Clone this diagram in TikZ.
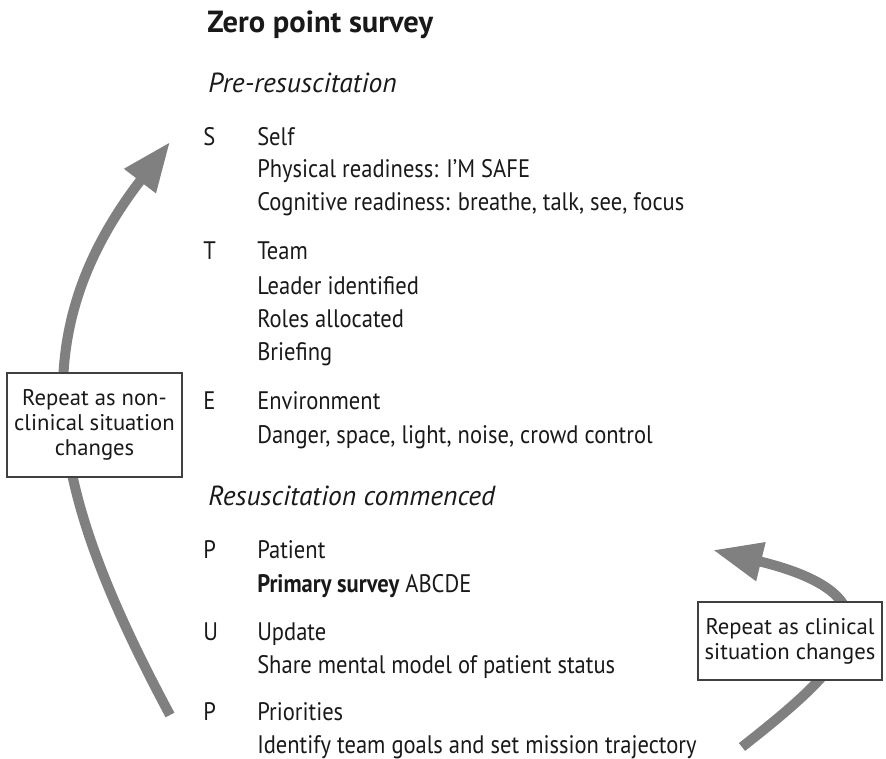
\documentclass[tikz,border=0pt]{standalone}
\usepackage{fontspec}
\setmainfont{PT Sans}
\newfontfamily\bodyfont[FakeStretch=0.89]{PT Sans}
\usetikzlibrary{arrows.meta}
\begin{document}
\begin{tikzpicture}[x=0.75pt,y=-0.75pt,
  body/.style={anchor=base west, inner sep=0pt, font=\bodyfont\fontsize{19}{22}\selectfont, text=black!90},
  titletext/.style={anchor=base west, inner sep=0pt, font=\fontsize{22.9}{26}\selectfont\bfseries, text=black!90},
  subhead/.style={anchor=base west, inner sep=0pt, font=\fontsize{20.7}{24}\selectfont\itshape, text=black!90},
  notebox/.style={draw=black!75, line width=1pt, fill=white, align=center, inner sep=0pt, text=black!90,
    font=\fontsize{17}{18.75}\selectfont},
  bigarrow/.style={draw=black!50, line width=7.5pt, -{Triangle[length=37pt,width=28pt]}}
]
\useasboundingbox (0,0) rectangle (886,759);

% arrows (drawn first, boxes cover them)
\coordinate (la0) at (170,715);
\coordinate (la1) at (170,142);
\draw[bigarrow] (la0) .. controls (51,493) and (17,341) .. (la1);
\coordinate (ra0) at (742,747);
\coordinate (ra1) at (713,550);
\draw[bigarrow] (ra0) .. controls (832,676) and (922,601) .. (ra1);

% boxes
\node[notebox, minimum width=175*0.75pt, minimum height=104*0.75pt] (boxl) at (94.5,425)
  {Repeat as non-\\clinical situation\\changes};
\node[notebox, minimum width=184*0.75pt, minimum height=78*0.75pt] (boxr) at (790,641)
  {Repeat as clinical\\situation changes};

% text
\node[titletext] (title) at (207,33) {Zero point survey};
\node[subhead] (pre) at (208,93) {Pre-resuscitation};

\node[body] (S) at (203,146) {S};
\node[body] (self) at (257,146) {Self};
\node[body] (phys) at (257,178) {Physical readiness: I’M SAFE};
\node[body] (cog) at (257,211) {Cognitive readiness: breathe, talk, see, focus};

\node[body] (T) at (203,260) {T};
\node[body] (team) at (257,260) {Team};
\node[body] (lead) at (257,295) {Leader identified};
\node[body] (roles) at (257,328) {Roles allocated};
\node[body] (brief) at (257,361) {Briefing};

\node[body] (E) at (203,410) {E};
\node[body] (env) at (257,410) {Environment};
\node[body] (dang) at (257,443) {Danger, space, light, noise, crowd control};

\node[subhead] (resc) at (208,505) {Resuscitation commenced};

\node[body] (P1) at (203,558) {P};
\node[body] (pat) at (257,558) {Patient};
\node[body] (prim) at (257,592) {{\bfseries Primary survey} ABCDE};

\node[body] (U) at (203,640) {U};
\node[body] (upd) at (257,640) {Update};
\node[body] (share) at (257,673) {Share mental model of patient status};

\node[body] (P2) at (203,720) {P};
\node[body] (prio) at (257,720) {Priorities};
\node[body] (ident) at (257,753) {Identify team goals and set mission trajectory};
\end{tikzpicture}
\end{document}
